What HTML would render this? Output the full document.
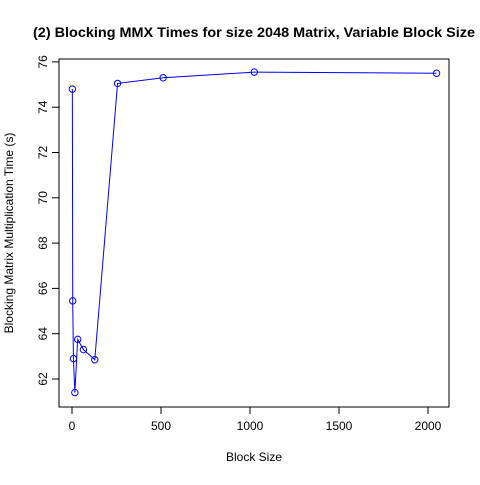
<!DOCTYPE html>
<html><head><style>body{margin:0;background:#fff}svg{font-family:"Liberation Sans",sans-serif}</style></head>
<body>
<svg width="480" height="480" xmlns="http://www.w3.org/2000/svg">
<rect width="480" height="480" fill="#fff"/>
<text x="254" y="37" font-size="14" font-weight="bold" text-anchor="middle" textLength="442" lengthAdjust="spacingAndGlyphs">(2) Blocking MMX Times for size 2048 Matrix, Variable Block Size</text>
<rect x="59" y="59" width="390" height="348" fill="none" stroke="#000"/>
<text x="254" y="461" font-size="12" text-anchor="middle">Block Size</text>
<text transform="translate(13,233) rotate(-90)" font-size="12" text-anchor="middle">Blocking Matrix Multiplication Time (s)</text>
<g id="axes"></g>
<g id="series"></g>
</svg>
<script>
const blockSizes=[2,4,8,16,32,64,128,256,512,1024,2048];
const times=[74.8,65.45,62.9,61.4,63.75,63.3,62.85,75.05,75.3,75.55,75.5];
const xTicks=[0,500,1000,1500,2000];
const yTicks=[62,64,66,68,70,72,74,76];
const NS="http://www.w3.org/2000/svg";
function sx(v){return 72+v*0.178;}
function sy(v){return 379-(v-62)*22.65;}
const ax=document.getElementById('axes');
const se=document.getElementById('series');
function mk(tag,attrs,parent){const e=document.createElementNS(NS,tag);for(const k in attrs)e.setAttribute(k,attrs[k]);parent.appendChild(e);return e;}
mk('line',{x1:sx(0),x2:sx(2000),y1:407,y2:407,stroke:'#000'},ax);
xTicks.forEach(t=>{
  const l=mk('line',{x1:sx(t),x2:sx(t),y1:407,y2:414,stroke:'#000'},ax);
  
  
  const tx=mk('text',{x:sx(t),y:430,'font-size':12,'text-anchor':'middle'},ax);
  tx.textContent=t;
  
  
});
mk('line',{x1:59,x2:59,y1:sy(62),y2:sy(76),stroke:'#000'},ax);
yTicks.forEach(t=>{
  const l=mk('line',{x1:52,x2:59,y1:sy(t),y2:sy(t),stroke:'#000'},ax);
  
  
  const tx=mk('text',{transform:`translate(47,${sy(t)}) rotate(-90)`,'font-size':12,'text-anchor':'middle'},ax);
  tx.textContent=t;
  
  
});
const pts=blockSizes.map((b,i)=>sx(b)+','+sy(times[i])).join(' ');
const pl=mk('polyline',{points:pts,fill:'none',stroke:'#0000ff','stroke-width':1},se);


blockSizes.forEach((b,i)=>{
  const c=mk('circle',{cx:sx(b),cy:sy(times[i]),r:3.2,fill:'none',stroke:'#0000ff'},se);
  
  
});
</script>
</body></html>
